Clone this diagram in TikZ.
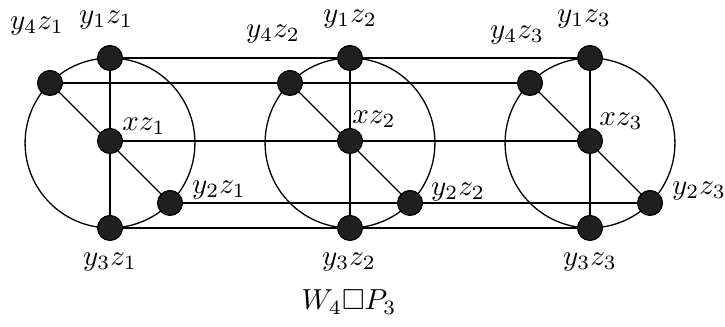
\documentclass[tikz,border=0pt]{standalone}
\usepackage{amssymb}
\begin{document}
\begin{tikzpicture}[x=0.345pt,y=-0.345pt,
  vtx/.style={circle,fill=black!88,draw=black,line width=0.4pt,minimum size=8.6pt,inner sep=0pt},
  edge/.style={line width=0.45pt,black},
  lbl/.style={inner sep=0pt}]
\useasboundingbox (0,0) rectangle (725,327);
% wheels
\foreach \k/\cx in {1/110,2/350,3/590}{
  \coordinate (c\k) at (\cx,143);
  \draw[edge] (c\k) circle[radius=29.3pt];
  \coordinate (p1\k) at (\cx,58);
  \coordinate (p3\k) at (\cx,228);
  \coordinate (p4\k) at (\cx-60,83);
  \coordinate (p2\k) at (\cx+60,203);
  \coordinate (px\k) at (\cx,141);
}
% inter-layer edges
\foreach \v in {1,2,3,4,x}{
  \draw[edge] (p\v1) -- (p\v2) -- (p\v3);
}
% spokes
\foreach \k in {1,2,3}{
  \draw[edge] (p1\k) -- (p3\k);
  \draw[edge] (p4\k) -- (p2\k);
}
% vertices
\foreach \k in {1,2,3}{
  \node[vtx] (y1z\k) at (p1\k) {};
  \node[vtx] (y2z\k) at (p2\k) {};
  \node[vtx] (y3z\k) at (p3\k) {};
  \node[vtx] (y4z\k) at (p4\k) {};
  \node[vtx] (xz\k) at (px\k) {};
}
% labels
\node[lbl] (l41) at (37,26) {$y_4z_1$};
\node[lbl] (l11) at (106,20) {$y_1z_1$};
\node[lbl] (lx1) at (144,126) {$xz_1$};
\node[lbl] (l21) at (219,190) {$y_2z_1$};
\node[lbl] (l31) at (110,262) {$y_3z_1$};
\node[lbl] (l42) at (273,34) {$y_4z_2$};
\node[lbl] (l12) at (350,19) {$y_1z_2$};
\node[lbl] (lx2) at (374,119) {$xz_2$};
\node[lbl] (l22) at (458,192) {$y_2z_2$};
\node[lbl] (l32) at (349,262) {$y_3z_2$};
\node[lbl] (l43) at (517,35) {$y_4z_3$};
\node[lbl] (l13) at (584,19) {$y_1z_3$};
\node[lbl] (lx3) at (621,121) {$xz_3$};
\node[lbl] (l23) at (699,191) {$y_2z_3$};
\node[lbl] (l33) at (590,262) {$y_3z_3$};
\node[lbl] (title) at (349,302) {$W_4\Box P_3$};
\end{tikzpicture}
\end{document}
